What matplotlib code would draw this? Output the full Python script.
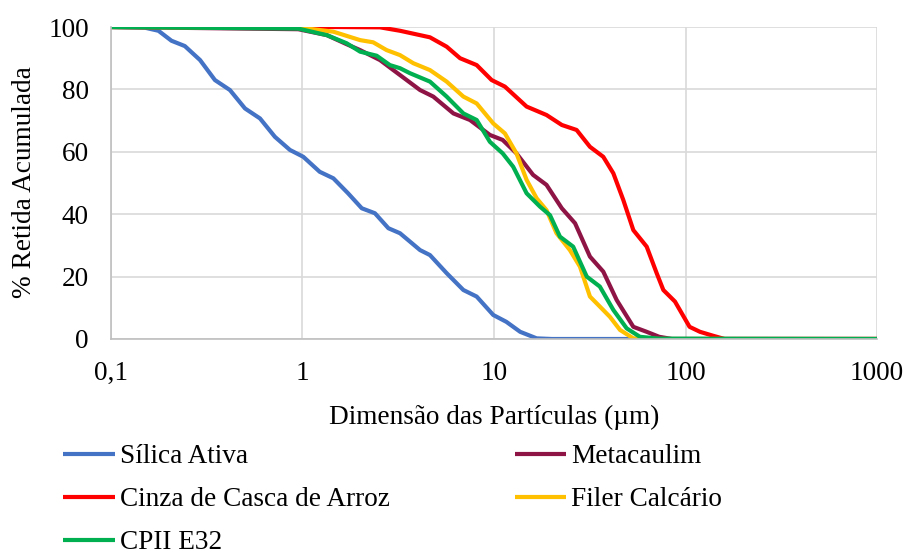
import matplotlib.pyplot as plt
from matplotlib.ticker import FixedLocator, FixedFormatter, NullLocator

plt.rcParams['font.family'] = ['Liberation Serif', 'DejaVu Serif']

# curvas granulométricas (diâmetro em µm, % retida acumulada)
silica_x = [0.1, 0.15, 0.177, 0.207, 0.243, 0.292, 0.349, 0.418, 0.501, 0.600, 0.718, 0.860,
            1.01, 1.23, 1.45, 1.73, 2.04, 2.39, 2.81, 3.23, 4.11, 4.63, 5.66, 6.92, 8.12,
            9.91, 11.6, 13.7, 16.7, 20, 1000]
silica_y = [100, 99.8, 98.8, 95.6, 93.9, 89.4, 83.0, 79.8, 73.9, 70.7, 64.8, 60.6,
            58.4, 53.6, 51.5, 46.7, 41.9, 40.3, 35.5, 33.9, 28.5, 26.9, 21.1, 15.7, 13.6,
            7.7, 5.5, 2.3, 0.2, 0, 0]

meta_x = [0.1, 0.95, 1.34, 1.70, 2.0, 2.54, 2.98, 3.23, 4.11, 4.82, 6.14, 7.49, 9.52, 11.1,
          13.1, 16.0, 18.8, 22.6, 26.5, 31.7, 37.2, 43.7, 53.4, 62.7, 72.9, 85, 1000]
meta_y = [100, 99.3, 97.4, 94.5, 92.6, 89.4, 86.2, 84.6, 79.8, 77.7, 72.3, 70.2, 65.4, 63.8,
          59.5, 52.6, 49.4, 41.9, 37.1, 26.4, 21.6, 12.5, 3.9, 2.3, 0.7, 0, 0]

cinza_x = [0.1, 1.5, 2.54, 3.23, 4.63, 5.66, 6.65, 8.12, 9.72, 11.4, 14.8, 18.8, 22.6, 27.0,
           31.7, 37.2, 42.0, 47.3, 53.4, 62.7, 70.7, 76.6, 88.1, 105, 119, 140, 160, 1000]
cinza_y = [100, 100, 99.9, 98.8, 96.7, 93.7, 90.0, 87.8, 83.0, 80.9, 74.5, 71.8, 68.6, 67.0,
           61.6, 58.4, 53.1, 44.6, 34.9, 29.6, 21.1, 15.7, 12.0, 3.9, 2.3, 1.0, 0, 0]

filer_x = [0.1, 0.97, 1.45, 2.0, 2.34, 2.75, 3.23, 3.79, 4.63, 5.66, 6.92, 8.12, 9.91, 11.4,
           13.1, 14.8, 16.7, 18.8, 21.2, 24.9, 28.1, 31.7, 35.7, 40.3, 45.5, 53.4, 60, 1000]
filer_y = [100, 99.8, 98.5, 95.8, 95.1, 92.6, 91.0, 88.4, 86.2, 82.5, 77.7, 75.5, 69.1, 65.9,
           59.5, 51.0, 45.1, 41.3, 33.9, 28.5, 23.2, 13.6, 10.4, 7.1, 2.9, 0.2, 0, 0]

cp_x = [0.1, 0.95, 1.34, 1.70, 2.0, 2.44, 2.86, 3.23, 3.64, 4.63, 5.66, 6.92, 8.12, 9.52,
        11.1, 12.6, 14.8, 17.4, 19.6, 22.1, 25.9, 30.5, 35.7, 42.0, 49.3, 57.8, 73, 1000]
cp_y = [100, 99.5, 97.4, 94.8, 92.1, 90.8, 87.8, 86.8, 85.2, 82.5, 77.7, 72.3, 70.2, 63.2,
        59.5, 55.2, 46.7, 42.4, 39.7, 32.8, 29.6, 20.0, 16.8, 9.3, 3.4, 0.7, 0.1, 0]

nomes = ['Sílica Ativa', 'Metacaulim', 'Cinza de Casca de Arroz', 'Filer Calcário', 'CPII E32']
cores = ['#4472C4', '#8E1446', '#FF0000', '#FFC000', '#00B050']
series = [(silica_x, silica_y), (meta_x, meta_y), (cinza_x, cinza_y),
          (filer_x, filer_y), (cp_x, cp_y)]

x_ticks = [0.1, 1, 10, 100, 1000]
x_labels = ['0,1', '1', '10', '100', '1000']
y_ticks = [0, 20, 40, 60, 80, 100]

FS = 19.6

fig = plt.figure(figsize=(9.08, 5.56), dpi=100)
ax = fig.add_axes([0.1222, 0.3903, 0.8437, 0.5611])

linhas = {}
for nome, cor, (xs, ys) in zip(nomes, cores, series):
    linhas[nome], = ax.plot(xs, ys, color=cor, lw=3, solid_capstyle='butt',
                            solid_joinstyle='round', label=nome)

ax.set_xscale('log')
ax.set_xlim(0.1, 1000)
ax.set_ylim(0, 100)
ax.xaxis.set_major_locator(FixedLocator(x_ticks))
ax.xaxis.set_major_formatter(FixedFormatter(x_labels))
ax.xaxis.set_minor_locator(NullLocator())
ax.set_yticks(y_ticks)
ax.tick_params(axis='both', length=0, labelsize=FS, pad=16)
ax.grid(True, color='#d9d9d9', lw=1.2)
ax.set_axisbelow(True)
for s in ['top', 'right']:
    ax.spines[s].set_visible(False)
for s in ['left', 'bottom']:
    ax.spines[s].set_color('#bfbfbf')
    ax.spines[s].set_linewidth(1.2)

ax.set_xlabel('Dimensão das Partículas (µm)', fontsize=FS)
ax.xaxis.set_label_coords(0.5, -0.212)
fig.text(25 / 908, 0.673, '% Retida Acumulada', fontsize=FS, rotation=90,
         ha='center', va='center')

ordem = ['Sílica Ativa', 'Cinza de Casca de Arroz', 'CPII E32', 'Metacaulim', 'Filer Calcário']
fig.legend([linhas[n] for n in ordem], ordem, loc='upper left',
           bbox_to_anchor=(0.0694, 0.201), bbox_transform=fig.transFigure,
           ncol=2, frameon=False, fontsize=FS, handlelength=1.9, handletextpad=0.18,
           columnspacing=4.6, labelspacing=0.66, borderaxespad=0, borderpad=0)

fig.savefig('out.png', dpi=100)
